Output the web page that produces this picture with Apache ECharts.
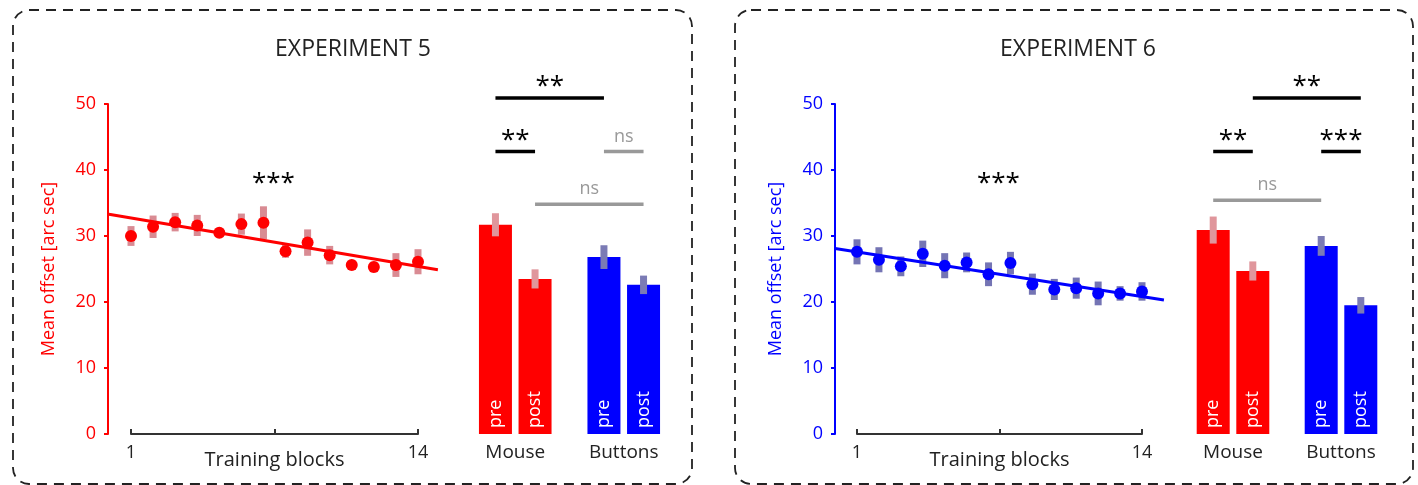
<!DOCTYPE html>
<html><head><meta charset="utf-8">
<script src="https://cdn.jsdelivr.net/npm/echarts@6/dist/echarts.min.js"></script>
<style>html,body{margin:0;padding:0;background:#fff}#c{width:1418px;height:485px}</style>
</head><body><div id="c"></div>
<script>
// ---------- data ----------
const blocks = [1,2,3,4,5,6,7,8,9,10,11,12,13,14];
const xTickLabels = [1, 14];
const groups = ['Mouse', 'Buttons'];
const phaseNames = ['pre', 'post'];

const exp5Mean = [30.0,31.4,32.1,31.6,30.5,31.8,32.0,27.7,29.0,27.1,25.6,25.3,25.6,26.1];
const exp5Err  = [1.5,1.7,1.4,1.6,0.6,1.6,2.5,1.0,2.0,1.4,0.6,0.8,1.8,1.9];
const exp5Fit  = [[0,33.3],[14.9,24.9]];
const exp5Pre     = [31.7, 26.8];
const exp5Post    = [23.5, 22.6];
const exp5PreErr  = [1.75, 1.8];
const exp5PostErr = [1.45, 1.4];

const exp6Mean = [27.6,26.4,25.4,27.3,25.5,26.0,24.2,25.9,22.7,21.9,22.1,21.3,21.3,21.6];
const exp6Err  = [1.9,1.9,1.5,2.0,1.9,1.5,1.8,1.7,1.6,1.6,1.6,1.8,1.1,1.4];
const exp6Fit  = [[0,28.1],[15,20.3]];
const exp6Pre     = [30.9, 28.5];
const exp6Post    = [24.7, 19.5];
const exp6PreErr  = [2.05, 1.5];
const exp6PostErr = [1.45, 1.25];

// significance: [barA, barB, level, label]; bars: 0 Mouse-pre, 1 Mouse-post, 2 Buttons-pre, 3 Buttons-post
const exp5Sig = [[0,2,50.9,'**'],[0,1,42.8,'**'],[2,3,42.8,'ns'],[1,3,34.8,'ns']];
const exp6Sig = [[1,3,50.9,'**'],[0,1,42.8,'**'],[2,3,42.8,'***'],[0,2,35.4,'ns']];
const trendSig = '***';

// ---------- styles ----------
const FONT = 'Open Sans';
const RED = '#ff0000', BLUE = '#0000ff', TXT = '#222222';
const BAR_W = 33, BAR_GAP = 0.2;
const groupColors = [RED, BLUE];

function errRender(width, color) {
  return function (params, api) {
    const lo = api.coord([api.value(0), api.value(1)]);
    const hi = api.coord([api.value(0), api.value(2)]);
    return {
      type: 'rect',
      shape: { x: lo[0] - width / 2, y: hi[1], width: width, height: lo[1] - hi[1] },
      style: { fill: color }
    };
  };
}

function scatterAxes(gi, color, offset) {
  return {
    x: {
      gridIndex: gi, type: 'value', min: 1, max: 14,
      axisLine: { show: true, lineStyle: { color: '#333', width: 2 } },
      axisTick: { show: true, inside: true, length: 5, customValues: [1, 7.5, 14], lineStyle: { color: '#333', width: 2 } },
      axisLabel: { customValues: xTickLabels, color: TXT, fontSize: 18, fontFamily: FONT, margin: 10 },
      splitLine: { show: false },
      name: 'Training blocks', nameLocation: 'middle', nameGap: 16, nameMoveOverlap: false,
      nameTextStyle: { color: TXT, fontSize: 20, fontFamily: FONT }
    },
    y: {
      gridIndex: gi, type: 'value', min: 0, max: 50, interval: 10, offset: offset,
      axisLine: { show: true, lineStyle: { color: color, width: 2 } },
      axisTick: { show: true, length: 4, lineStyle: { color: color, width: 2 } },
      axisLabel: { color: color, fontSize: 18, fontFamily: FONT, margin: 12 },
      splitLine: { show: false },
      name: 'Mean offset [arc sec]', nameLocation: 'middle', nameGap: 50, nameMoveOverlap: false,
      nameTextStyle: { color: color, fontSize: 18, fontFamily: FONT }
    }
  };
}
function barAxes(gi) {
  return {
    x: {
      gridIndex: gi, type: 'category', data: groups,
      axisLine: { show: false }, axisTick: { show: false },
      axisLabel: { color: TXT, fontSize: 19, fontFamily: FONT, margin: 9 }
    },
    y: { gridIndex: gi, type: 'value', min: 0, max: 50, show: false, splitLine: { show: false } }
  };
}

const a0 = scatterAxes(0, RED, 23), a1 = barAxes(1), a2 = scatterAxes(2, BLUE, 22), a3 = barAxes(3);

function scatterSeries(ai, mean, err, fit, color, errColor) {
  return [
    { type: 'custom', xAxisIndex: ai, yAxisIndex: ai, z: 2,
      renderItem: errRender(7, errColor),
      data: blocks.map((b, i) => [b, mean[i] - err[i], mean[i] + err[i]]) },
    { type: 'custom', xAxisIndex: ai, yAxisIndex: ai, z: 3, clip: false,
      renderItem: function (params, api) {
        const p1 = api.coord([api.value(0), api.value(1)]);
        const p2 = api.coord([api.value(2), api.value(3)]);
        return { type: 'line', shape: { x1: p1[0], y1: p1[1], x2: p2[0], y2: p2[1] },
          style: { stroke: color, lineWidth: 3 } };
      },
      data: [[fit[0][0], fit[0][1], fit[1][0], fit[1][1]]] },
    { type: 'scatter', xAxisIndex: ai, yAxisIndex: ai, z: 4, symbolSize: 12,
      itemStyle: { color: color, opacity: 1 }, data: blocks.map((b, i) => [b, mean[i]]) }
  ];
}
function barSeries(ai, pre, post, preErr, postErr) {
  const off = (BAR_W * (1 + BAR_GAP)) / 2;
  const mk = (vals, name) => ({
    type: 'bar', xAxisIndex: ai, yAxisIndex: ai, barWidth: BAR_W, barGap: (BAR_GAP * 100) + '%', z: 2,
    data: vals.map((v, i) => ({ value: v, itemStyle: { color: groupColors[i] } })),
    label: { show: true, position: 'insideBottom', rotate: 90, align: 'left', verticalAlign: 'middle',
      distance: 6, formatter: name, color: '#fff', fontSize: 18, fontFamily: FONT }
  });
  const errColors = ['#e0969c', '#7b7bb5'];
  const mkErr = (vals, errs, sign) => ({
    type: 'custom', xAxisIndex: ai, yAxisIndex: ai, z: 5,
    renderItem: function (params, api) {
      const idx = api.value(0);
      const lo = api.coord([idx, api.value(1)]);
      const hi = api.coord([idx, api.value(2)]);
      return { type: 'rect', shape: { x: lo[0] + sign * off - 3.5, y: hi[1], width: 7, height: lo[1] - hi[1] },
        style: { fill: errColors[idx] } };
    },
    data: vals.map((v, i) => [i, v - errs[i], v + errs[i]])
  });
  return [mk(pre, phaseNames[0]), mk(post, phaseNames[1]), mkErr(pre, preErr, -1), mkErr(post, postErr, 1)];
}

const chart = echarts.init(document.getElementById('c'), null, { renderer: 'canvas' });
const option = {
  animation: false,
  backgroundColor: '#fff',
  textStyle: { fontFamily: FONT },
  grid: [
    { left: 131, top: 104, width: 287, height: 330 },
    { left: 461, top: 104, width: 217, height: 330 },
    { left: 857, top: 104, width: 285, height: 330 },
    { left: 1179, top: 104, width: 216, height: 330 }
  ],
  xAxis: [a0.x, a1.x, a2.x, a3.x],
  yAxis: [a0.y, a1.y, a2.y, a3.y],
  series: [].concat(
    scatterSeries(0, exp5Mean, exp5Err, exp5Fit, RED, '#d98b93'),
    barSeries(1, exp5Pre, exp5Post, exp5PreErr, exp5PostErr),
    scatterSeries(2, exp6Mean, exp6Err, exp6Fit, BLUE, '#7474b4'),
    barSeries(3, exp6Pre, exp6Post, exp6PreErr, exp6PostErr)
  )
};
chart.setOption(option);

// ---------- annotations ----------
const g = [];
const dash = { fill: 'none', stroke: '#222', lineWidth: 1.8, lineDash: [10, 7] };
g.push({ type: 'rect', shape: { x: 13, y: 10, width: 679, height: 474, r: 16 }, style: dash, silent: true });
g.push({ type: 'rect', shape: { x: 735, y: 10, width: 678, height: 474, r: 16 }, style: dash, silent: true });
g.push({ type: 'text', x: 353, y: 49, style: { text: 'EXPERIMENT 5', fill: TXT, font: '23px "' + FONT + '"', textAlign: 'center', textVerticalAlign: 'middle' } });
g.push({ type: 'text', x: 1078, y: 49, style: { text: 'EXPERIMENT 6', fill: TXT, font: '23px "' + FONT + '"', textAlign: 'center', textVerticalAlign: 'middle' } });

function addSig(gi, sig) {
  const off = (BAR_W * (1 + BAR_GAP)) / 2;
  const barX = (b) => chart.convertToPixel({ gridIndex: gi }, [Math.floor(b / 2), 0])[0] + (b % 2 === 0 ? -off : off);
  sig.forEach(([a, b, lvl, lab]) => {
    const y = chart.convertToPixel({ gridIndex: gi }, [0, lvl])[1];
    const x1 = barX(a), x2 = barX(b);
    const ns = lab === 'ns';
    const col = ns ? '#999999' : '#000000';
    g.push({ type: 'line', shape: { x1: x1, y1: y, x2: x2, y2: y }, style: { stroke: col, lineWidth: 3.5 }, silent: true });
    g.push({ type: 'text', x: (x1 + x2) / 2, y: ns ? y - 15 : y - 11,
      style: { text: lab, fill: col, font: (ns ? '18px' : '26px') + ' "' + FONT + '"', textAlign: 'center', textVerticalAlign: 'middle' } });
  });
}
addSig(1, exp5Sig);
addSig(3, exp6Sig);
[0, 2].forEach(gi => {
  const p = chart.convertToPixel({ gridIndex: gi }, [7.45, 38.6]);
  g.push({ type: 'text', x: p[0], y: p[1] + 4, style: { text: trendSig, fill: '#000', font: '26px "' + FONT + '"', textAlign: 'center', textVerticalAlign: 'middle' } });
});
chart.setOption({ graphic: g });
</script>
</body></html>
